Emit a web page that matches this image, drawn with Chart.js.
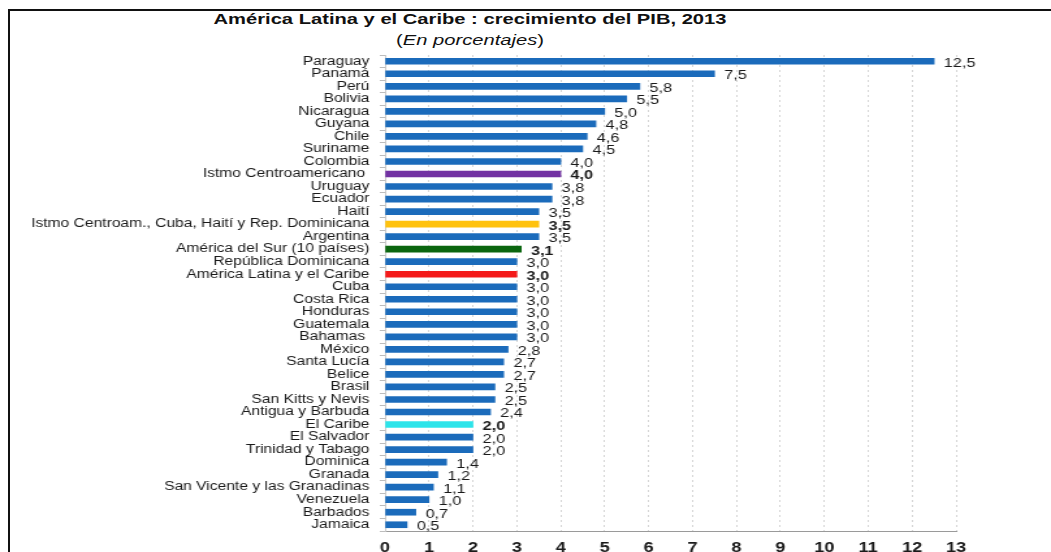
<!DOCTYPE html>
<html>
<head>
<meta charset="utf-8">
<script src="https://cdn.jsdelivr.net/npm/chart.js@4.4.1/dist/chart.umd.min.js"></script>
<style>
    body { margin: 0; background: #fff; font-family: 'Liberation Sans', Arial, sans-serif; }
    #wrap { position: relative; width: 1051px; height: 552px; overflow: hidden; }
    #frame { position: absolute; left: 8px; top: 9px; width: 1100px; height: 600px; border-left: 2px solid #111; border-top: 2px solid #111; }
    .title { position: absolute; left: 470px; transform: translateX(-50%) scaleX(1.3); white-space: nowrap; color: #111; line-height: 1; font-size: 15.5px; }
    #title { top: 11px; font-weight: bold; }
    #subtitle { top: 32px; }
    canvas { position: absolute; left: 0; top: 0; }
</style>
</head>
<body>
<div id="wrap">
    <div id="frame"></div>
    <div class="title" id="title">América Latina y el Caribe : crecimiento del PIB, 2013</div>
    <div class="title" id="subtitle">(<i>En porcentajes</i>)</div>
    <!-- lienzo estrecho, ensanchado por CSS: letra ancha como en el original -->
    <canvas id="pibChart" width="808" height="552" style="width:1051px;height:552px"></canvas>
</div>
<script>
// Crecimiento del PIB 2013, en porcentajes
const paises = [
    'Paraguay', 'Panamá', 'Perú', 'Bolivia', 'Nicaragua', 'Guyana', 'Chile', 'Suriname',
    'Colombia', 'Istmo Centroamericano ', 'Uruguay', 'Ecuador', 'Haití',
    'Istmo Centroam., Cuba, Haití y Rep. Dominicana', 'Argentina', 'América del Sur (10 países)',
    'República Dominicana', 'América Latina y el Caribe', 'Cuba', 'Costa Rica', 'Honduras',
    'Guatemala', 'Bahamas ', 'México', 'Santa Lucía', 'Belice', 'Brasil', 'San Kitts y Nevis',
    'Antigua y Barbuda', 'El Caribe', 'El Salvador', 'Trinidad y Tabago', 'Dominica', 'Granada',
    'San Vicente y las Granadinas', 'Venezuela', 'Barbados', 'Jamaica'
];
const crecimiento = [
    12.5, 7.5, 5.8, 5.5, 5.0, 4.8, 4.6, 4.5,
    4.0, 4.0, 3.8, 3.8, 3.5,
    3.5, 3.5, 3.1,
    3.0, 3.0, 3.0, 3.0, 3.0,
    3.0, 3.0, 2.8, 2.7, 2.7, 2.5, 2.5,
    2.4, 2.0, 2.0, 2.0, 1.4, 1.2,
    1.1, 1.0, 0.7, 0.5
];
const ejeX = [0, 1, 2, 3, 4, 5, 6, 7, 8, 9, 10, 11, 12, 13];

// agregados regionales: color propio y etiqueta en negrita
const agregados = {
    'Istmo Centroamericano ': '#7232a3',
    'Istmo Centroam., Cuba, Haití y Rep. Dominicana': '#ffc20e',
    'América del Sur (10 países)': '#0b660f',
    'América Latina y el Caribe': '#f41a1a',
    'El Caribe': '#2ee4ea'
};
const AZUL = '#1b6bbb';
const FUENTE = "'Liberation Sans', Arial, sans-serif";

const colores = paises.map(p => agregados[p] || AZUL);

const etiquetasValor = {
    id: 'etiquetasValor',
    afterDatasetsDraw(chart) {
        const ctx = chart.ctx;
        const meta = chart.getDatasetMeta(0);
        ctx.save();
        ctx.fillStyle = '#1a1a1a';
        ctx.textBaseline = 'middle';
        ctx.textAlign = 'left';
        meta.data.forEach((bar, i) => {
            const bold = agregados[paises[i]] ? 'bold ' : '';
            ctx.font = `${bold}12.5px ${FUENTE}`;
            const txt = crecimiento[i].toFixed(1).replace('.', ',');
            ctx.fillText(txt, bar.x + 7.5, bar.y + 2);
        });
        ctx.restore();
    }
};

new Chart(document.getElementById('pibChart'), {
    type: 'bar',
    data: {
        labels: paises,
        datasets: [{
            data: crecimiento,
            backgroundColor: colores,
            barThickness: 6
        }]
    },
    plugins: [etiquetasValor],
    options: {
        indexAxis: 'y',
        responsive: false,
        devicePixelRatio: 1,
        animation: false,
        layout: { padding: { top: 55, right: 73, bottom: 0, left: 0 } },
        plugins: {
            legend: { display: false },
            tooltip: { enabled: false }
        },
        scales: {
            x: {
                min: 0,
                max: 13,
                afterBuildTicks: (scale) => { scale.ticks = ejeX.map(v => ({ value: v })); },
                afterFit: (scale) => { scale.height = 21; },
                ticks: {
                    color: '#1a1a1a',
                    padding: 9,
                    font: { family: FUENTE, size: 14, weight: 'bold' }
                },
                grid: { color: '#d6d6d6', drawTicks: false },
                border: { color: '#9a9a9a', width: 1, dash: [2, 3] }
            },
            y: {
                afterFit: (scale) => { scale.width = 296; },
                ticks: {
                    color: '#1a1a1a',
                    padding: 8,
                    autoSkip: false,
                    font: { family: FUENTE, size: 12 }
                },
                grid: { drawOnChartArea: false, tickLength: 4, color: '#bdbdbd', offset: true },
                border: { color: '#c8c8c8' }
            }
        }
    }
});
</script>
</body>
</html>
